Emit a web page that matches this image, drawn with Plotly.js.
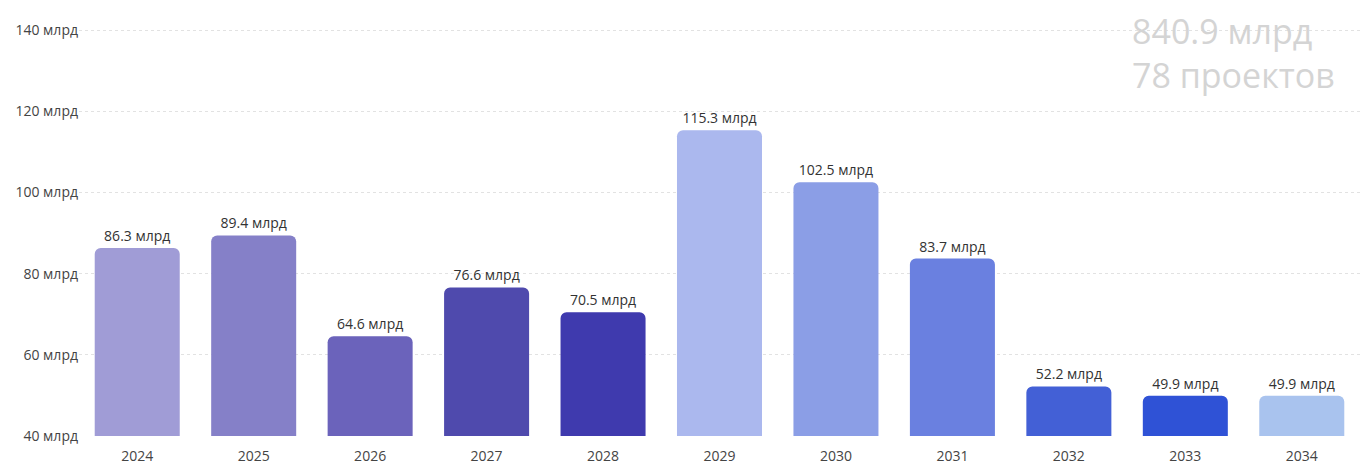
<!DOCTYPE html>
<html>
<head>
<meta charset="utf-8">
<script src="https://cdn.plot.ly/plotly-3.0.1.min.js"></script>
<style>html,body{margin:0;padding:0;background:#fff;}#chart{width:1368px;height:466px;}</style>
</head>
<body>
<div id="chart"></div>
<script>
const years = ["2024","2025","2026","2027","2028","2029","2030","2031","2032","2033","2034"];
const values = [86.3, 89.4, 64.6, 76.6, 70.5, 115.3, 102.5, 83.7, 52.2, 49.9, 49.9];
const barColors = ["#a09cd6","#8580c8","#6b63bb","#4f4aad","#3f3aae","#abb8ee","#8b9ee6","#6a80e0","#4360d6","#2f52d6","#a9c3ee"];
const yTickVals = [40, 60, 80, 100, 120, 140];
const yTickText = ["40 млрд","60 млрд","80 млрд","100 млрд","120 млрд","140 млрд"];
const totalText = "840.9 млрд";
const projectsText = "78 проектов";
const unit = " млрд";

const trace = {
  type: "bar",
  x: years,
  y: values,
  base: 0,
  marker: {color: barColors, cornerradius: 6},
  text: values.map(v => v.toFixed(1) + unit),
  textposition: "outside",
  cliponaxis: false,
  textfont: {family: "Open Sans, sans-serif", size: 14, color: "#333"},
  hoverinfo: "none"
};

const layout = {
  width: 1368, height: 466,
  margin: {l: 79, r: 8, t: 28, b: 30},
  paper_bgcolor: "#fff", plot_bgcolor: "#fff",
  bargap: 0.27,
  showlegend: false,
  font: {family: "Open Sans, sans-serif", size: 14, color: "#444"},
  xaxis: {
    type: "category",
    showgrid: false, zeroline: false, showline: false,
    ticks: "", ticklabelstandoff: 10,
    tickfont: {size: 14, color: "#444"}
  },
  yaxis: {
    range: [40, 140.5],
    tickvals: yTickVals, ticktext: yTickText,
    showgrid: true, gridcolor: "#e2e2e2", griddash: "dot", gridwidth: 1,
    zeroline: false, showline: false, ticks: "",
    tickfont: {size: 14, color: "#444"}
  },
  annotations: [{
    xref: "paper", yref: "paper", x: 0.8205, y: 1,
    xanchor: "left", yanchor: "top", yshift: 22,
    align: "left", showarrow: false,
    text: totalText + "<br>" + projectsText,
    font: {family: "Open Sans, sans-serif", size: 34, color: "#d4d4d4"}
  }]
};

Plotly.newPlot("chart", [trace], layout, {displayModeBar: false, staticPlot: true});
</script>
</body>
</html>
